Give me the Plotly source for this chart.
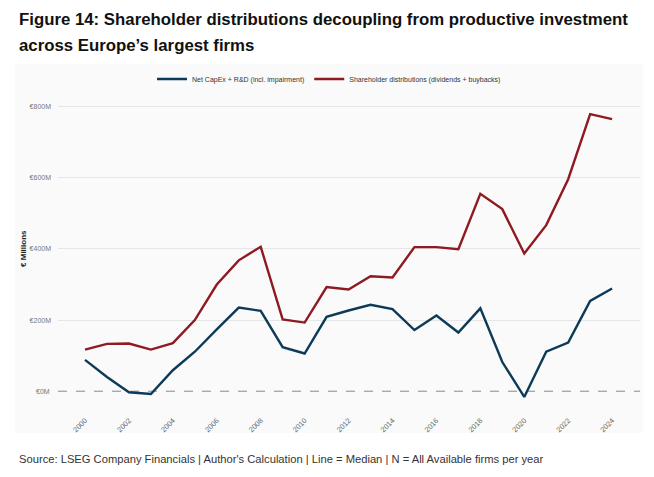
import plotly.graph_objects as go

years = list(range(2000, 2025))

# median net capex + R&D (incl. impairment), EUR millions
capex_rd = [88, 40, -3, -8, 59, 111, 174, 235, 226, 124, 106, 209, 227,
            243, 231, 172, 213, 165, 233, 82, -16, 111, 137, 254, 289]

# median shareholder distributions (dividends + buybacks), EUR millions
distributions = [117, 133, 134, 117, 135, 200, 300, 368, 406, 202, 193, 293, 286,
                 323, 320, 405, 405, 399, 555, 512, 387, 467, 596, 779, 765]

y_ticks = [0, 200, 400, 600, 800]
y_labels = ["€0M", "€200M", "€400M", "€600M", "€800M"]

blue = "#0d3a58"
red = "#8e1a22"

L, R, T, B = 58, 14, 96, 68
PW, PH = 654 - L - R, 477 - T - B


def px_x(x):
    return (x - L) / PW


def px_y(y):
    return 1 - (y - T) / PH


fig = go.Figure()

# light grey panel behind the chart
fig.add_shape(type="rect", xref="paper", yref="paper",
              x0=px_x(15), x1=px_x(643), y0=px_y(433), y1=px_y(64),
              fillcolor="#fafafa", line=dict(width=0), layer="below")

# dashed zero line
fig.add_hline(y=0, line=dict(color="#8a8a8a", width=1, dash="dash"), layer="below")

fig.add_trace(go.Scatter(x=years, y=capex_rd, mode="lines",
                         name="Net CapEx + R&D (incl. impairment)",
                         line=dict(color=blue, width=2.4)))
fig.add_trace(go.Scatter(x=years, y=distributions, mode="lines",
                         name="Shareholder distributions (dividends + buybacks)",
                         line=dict(color=red, width=2.4)))

fig.update_layout(
    width=654, height=477,
    margin=dict(l=L, r=R, t=T, b=B, autoexpand=False),
    paper_bgcolor="white",
    plot_bgcolor="rgba(0,0,0,0)",
    font=dict(family="Liberation Sans, Arial, sans-serif"),
    showlegend=True,
    legend=dict(orientation="h", xref="paper", x=px_x(329), xanchor="center",
                yref="paper", y=px_y(79), yanchor="middle",
                font=dict(size=7, color="#333333"), bgcolor="rgba(0,0,0,0)",
                itemwidth=30, tracegroupgap=0),
    xaxis=dict(range=[1998.77, 2025.27], tickmode="array",
               tickvals=list(range(2000, 2025, 2)), tickangle=-45,
               tickfont=dict(size=7.3, color="#666666"), showgrid=False,
               zeroline=False, showline=False, ticks="", ticklabelstandoff=5,
               automargin=False),
    yaxis=dict(range=[-50, 830], tickmode="array", tickvals=y_ticks[1:],
               ticktext=y_labels[1:], tickfont=dict(size=7, color="#777777"),
               gridcolor="#e6e6e6", gridwidth=1, zeroline=False, showline=False,
               ticks="", ticklabelstandoff=6, automargin=False),
)

# €0M label sits on the dashed line, so add it as text next to the axis
fig.add_annotation(x=0, xref="paper", y=0, yref="y", text=y_labels[0],
                   showarrow=False, xanchor="right", xshift=-6,
                   font=dict(size=7, color="#777777"))

# y axis title
fig.add_annotation(x=px_x(24), xref="paper", y=400, yref="y", text="<b>€ Millions</b>",
                   showarrow=False, textangle=-90, xanchor="center", yanchor="middle",
                   font=dict(size=8, color="#222222"))

title_font = dict(size=16.8, color="#111111", family="Liberation Sans, Arial, sans-serif")
fig.add_annotation(x=px_x(17), xref="paper", y=px_y(19), yref="paper",
                   text="<b>Figure 14: Shareholder distributions decoupling from productive investment</b>",
                   showarrow=False, xanchor="left", yanchor="middle", font=title_font)
fig.add_annotation(x=px_x(17), xref="paper", y=px_y(45), yref="paper",
                   text="<b>across Europe’s largest firms</b>",
                   showarrow=False, xanchor="left", yanchor="middle", font=title_font)
fig.add_annotation(x=px_x(17), xref="paper", y=px_y(459), yref="paper",
                   text="Source: LSEG Company Financials | Author's Calculation | Line = Median | N = All Available firms per year",
                   showarrow=False, xanchor="left", yanchor="middle",
                   font=dict(size=11.2, color="#333333"))

# the page body has a default margin; drop it so the figure sits at (0, 0)
fig.write_html("out.html", config={"displayModeBar": False},
               post_script="document.body.style.margin = '0px';")
